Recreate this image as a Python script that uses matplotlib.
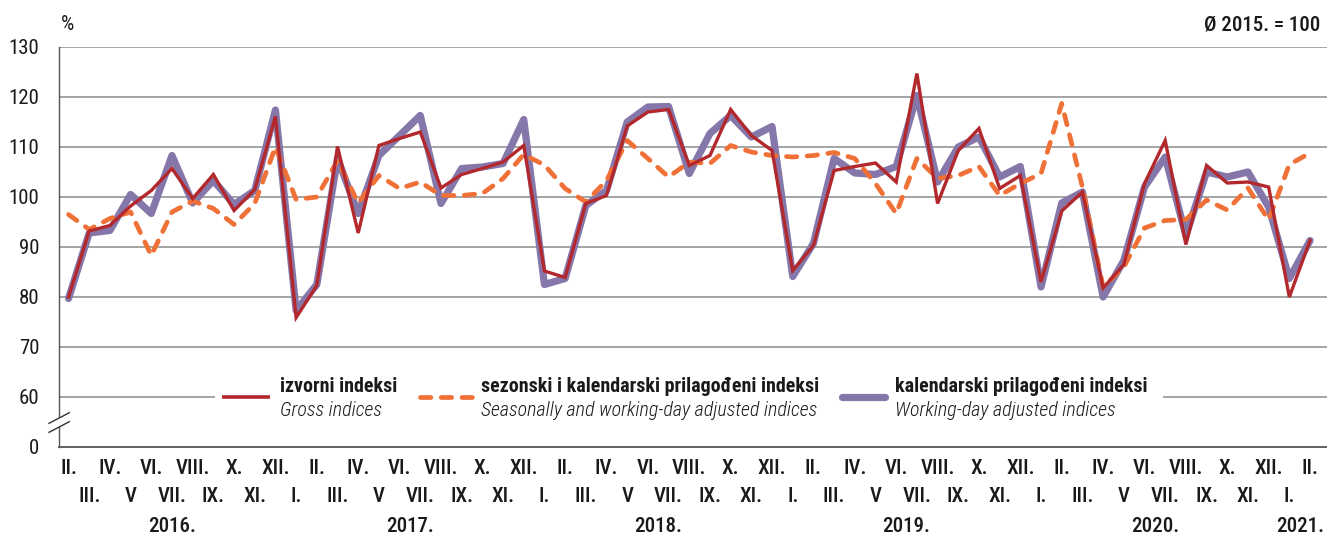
import matplotlib
matplotlib.use("Agg")
import matplotlib.pyplot as plt
from matplotlib import font_manager
from matplotlib.patches import Rectangle, Polygon
from matplotlib.lines import Line2D

names = {f.name for f in font_manager.fontManager.ttflist}
FONT = "DejaVu Sans"
for cand in ["Roboto Condensed", "Archivo Narrow", "PT Sans Narrow", "Fira Sans Condensed",
             "Liberation Sans Narrow"]:
    if cand in names:
        FONT = cand
        break
plt.rcParams["font.family"] = [FONT, "DejaVu Sans"]

# ---------------- data ----------------
top_months = ["II.", "IV.", "VI.", "VIII.", "X.", "XII."]
bottom_months = ["III.", "V", "VII.", "IX.", "XI.", "I."]
years = ["2016.", "2017.", "2018.", "2019.", "2020.", "2021."]
year_centers = [5, 16.5, 28.5, 40.5, 52.5, 59.5]   # month-index centre of each year

gross = [80.0, 93.2, 94.3, 98.2, 101.3, 105.7, 99.7, 104.5, 97.3, 101.5, 116.1,
         75.9, 82.3, 110.1, 92.8, 110.3, 111.7, 113.0, 101.8, 104.5, 105.7, 107.0, 110.3,
         85.2, 83.9, 98.7, 100.3, 114.2, 117.0, 117.5, 106.3, 108.3, 117.5, 112.3, 109.3,
         85.3, 90.3, 105.3, 106.1, 106.8, 103.0, 124.7, 98.7, 109.3, 113.7, 101.7, 104.3,
         83.0, 97.2, 101.0, 81.8, 86.5, 102.7, 111.3, 90.5, 106.3, 102.8, 103.0, 102.0,
         80.0, 91.3]
working_day = [79.7, 92.8, 93.3, 100.5, 96.7, 108.3, 98.8, 103.3, 98.5, 101.3, 117.4,
               77.3, 82.5, 107.7, 96.7, 108.3, 112.3, 116.3, 98.7, 105.7, 106.0, 106.7, 115.5,
               82.5, 83.7, 98.3, 101.3, 115.0, 118.0, 118.1, 104.7, 112.7, 116.3, 112.0, 114.1,
               84.1, 90.7, 107.7, 104.8, 104.5, 106.1, 120.3, 103.0, 110.0, 112.0, 104.0, 106.1,
               82.0, 98.8, 101.0, 80.0, 87.3, 102.0, 108.0, 92.3, 105.0, 104.0, 105.0, 98.0,
               83.7, 91.3]
seasonal = [96.5, 93.5, 95.7, 97.0, 88.3, 97.0, 99.2, 97.7, 94.5, 98.7, 110.0,
            99.5, 100.0, 107.3, 98.8, 104.3, 101.7, 103.0, 100.3, 100.3, 100.7, 103.7, 108.5,
            106.4, 101.7, 99.0, 103.3, 111.3, 107.7, 104.0, 107.0, 106.7, 110.3, 109.0, 108.3,
            108.0, 108.3, 108.9, 107.7, 102.7, 96.7, 107.7, 103.7, 104.3, 106.1, 100.3, 102.7,
            104.7, 118.7, 102.0, 82.0, 86.0, 93.8, 95.3, 95.5, 99.4, 97.4, 101.8, 95.4,
            106.5, 108.8]

y_ticks = [50, 60, 70, 80, 90, 100, 110, 120, 130]
y_labels = ["0", "60", "70", "80", "90", "100", "110", "120", "130"]

C_RED = "#b3282d"
C_ORANGE = "#f07138"
C_PURPLE = "#8677ab"
C_GRID = "#8c8c8c"
C_AXIS = "#555555"
C_TEXT = "#1a1a1a"
FS = 15
FS_LEG = 14.4
DASH = (2.2, 2.2)

W, H = 1327, 537
fig = plt.figure(figsize=(W / 100, H / 100), dpi=100)
ax = fig.add_axes([59 / W, 1 - 447 / H, 1 - 59 / W, 400 / H])

n = len(gross)
x = list(range(n))
ax.set_xlim(-0.46, 60.82)
ax.set_ylim(50, 130)

# grid
for v in y_ticks[1:]:
    ax.axhline(v, color=C_GRID, lw=1.1, zorder=1)

ax.plot(x, working_day, color=C_PURPLE, lw=5.2, solid_joinstyle="round",
        solid_capstyle="round", zorder=3)
ax.plot(x, seasonal, color=C_ORANGE, lw=3.4, dashes=DASH,
        dash_capstyle="round", dash_joinstyle="round", zorder=4)
ax.plot(x, gross, color=C_RED, lw=2.4, solid_joinstyle="miter", zorder=5)

# spines
for s in ["top", "right"]:
    ax.spines[s].set_visible(False)
ax.spines["left"].set_color(C_AXIS)
ax.spines["left"].set_linewidth(1.0)
ax.spines["bottom"].set_color(C_AXIS)
ax.spines["bottom"].set_linewidth(1.3)

ax.set_yticks(y_ticks)
ax.set_yticklabels(y_labels, fontsize=FS, color=C_TEXT)
ax.tick_params(axis="y", length=0, pad=14)
ax.set_xticks([])

def px2x(px):
    return (px - 68.5) / 20.7

def py2y(py):
    return 130 - (py - 47) / 5.0

# axis break marks
brk = Polygon([(px2x(49), py2y(423.3)), (px2x(69.3), py2y(412.7)),
               (px2x(69.3), py2y(421.7)), (px2x(49), py2y(432.3))],
              closed=True, facecolor="white", edgecolor="none", clip_on=False, zorder=6)
ax.add_patch(brk)
for (a, b) in [((49, 423.3), (69.3, 412.7)), ((49, 432.3), (69.3, 421.7))]:
    ax.add_line(Line2D([px2x(a[0]), px2x(b[0])], [py2y(a[1]), py2y(b[1])],
                       color="#333333", lw=1.0, clip_on=False, zorder=7))

# x tick labels (two rows) and years
for i in range(n):
    if i % 2 == 0:
        lab = top_months[(i // 2) % 6]
        yy = py2y(469)
    else:
        lab = bottom_months[(i // 2) % 6]
        yy = py2y(496)
    ax.text(i, yy, lab, ha="center", va="center", fontsize=FS, color=C_TEXT,
            fontweight="medium", clip_on=False)
for yc, yl in zip(year_centers, years):
    ax.text(yc, py2y(527), yl, ha="center", va="center", fontsize=FS, color=C_TEXT,
            fontweight="medium", clip_on=False)

# legend (drawn on top of the 60 gridline)
ax.add_patch(Rectangle((px2x(215), 56.5), px2x(1163) - px2x(215), 7,
                       facecolor="white", edgecolor="none", zorder=2))
ly = 60
handles = [
    (222, 270, dict(color=C_RED, lw=2.6, solid_capstyle="butt"), 280,
     "izvorni indeksi", "Gross indices"),
    (420, 472, dict(color=C_ORANGE, lw=3.4, dashes=DASH, dash_capstyle="round"), 481,
     "sezonski i kalendarski prilagođeni indeksi", "Seasonally and working-day adjusted indices"),
    (842, 885, dict(color=C_PURPLE, lw=5.2, solid_capstyle="round"), 895,
     "kalendarski prilagođeni indeksi", "Working-day adjusted indices"),
]
for x0, x1, style, tx, l1, l2 in handles:
    ax.add_line(Line2D([px2x(x0), px2x(x1)], [ly, ly], zorder=3, **style))
    ax.text(px2x(tx), py2y(386), l1, ha="left", va="center", fontsize=FS_LEG,
            fontweight="bold", color=C_TEXT)
    ax.text(px2x(tx), py2y(410), l2, ha="left", va="center", fontsize=FS_LEG,
            style="italic", fontweight="light", color=C_TEXT)

# header texts
fig.text(67 / W, 1 - 25 / H, "%", ha="center", va="center", fontsize=FS, color=C_TEXT)
fig.text(1320 / W, 1 - 25 / H, "Ø 2015. = 100", ha="right", va="center", fontsize=FS,
         fontweight="medium", color=C_TEXT)

fig.savefig("out.png", dpi=100)
